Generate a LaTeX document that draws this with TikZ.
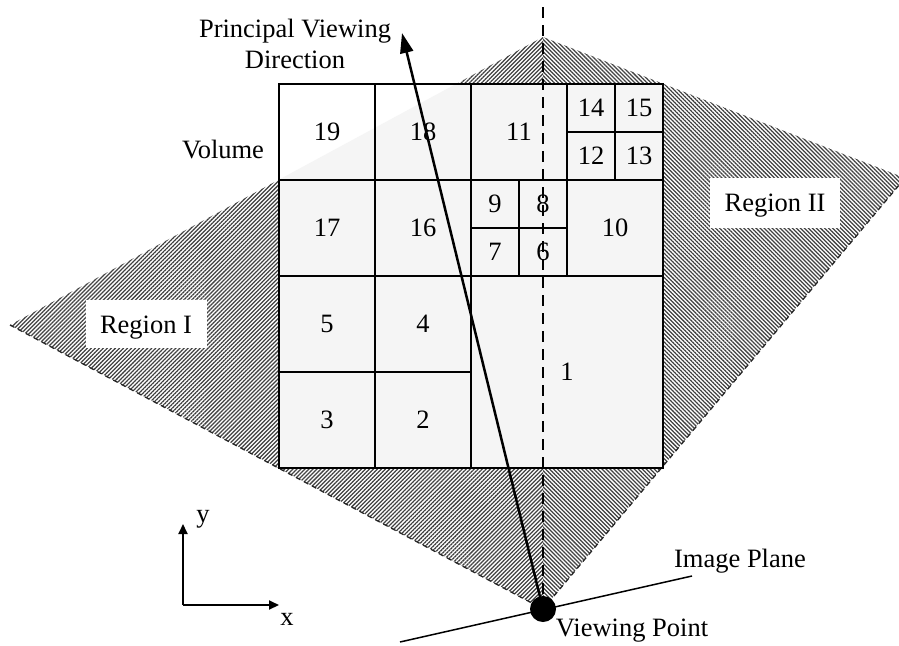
\documentclass[tikz,border=0pt]{standalone}
\usepackage{fontspec}
\setmainfont{Liberation Serif}
\usetikzlibrary{patterns,patterns.meta,arrows.meta}
\begin{document}
\begin{tikzpicture}[x=1pt,y=-1pt,
  lbl/.style={font=\fontsize{26.5}{30}\selectfont, inner sep=0pt},
  bigcell/.style={draw, line width=2pt, minimum width=96pt, minimum height=96pt, inner sep=0pt, font=\fontsize{26.5}{30}\selectfont},
  smallcell/.style={draw, line width=2pt, minimum width=48pt, minimum height=48pt, inner sep=0pt, font=\fontsize{26.5}{30}\selectfont},
  hatchL/.style={pattern={Lines[angle=45,distance=2.85pt,line width=1.25pt]}, pattern color=black!75},
  hatchR/.style={pattern={Lines[angle=-45,distance=2.85pt,line width=1.25pt]}, pattern color=black!75},
  edgedash/.style={line width=1.3pt, dash pattern=on 5pt off 4pt, black!85},
  viewline/.style={line width=2pt, dash pattern=on 11pt off 7pt},
  pvarrow/.style={line width=2.5pt, -{Triangle[length=20pt,width=13pt]}},
  axarrow/.style={line width=2pt, -{Triangle[length=10pt,width=9pt]}},
  thinline/.style={line width=1.5pt}
]
\useasboundingbox (0,0) rectangle (899,645);

% key points
\coordinate (kl) at (10,325);
\coordinate (kt) at (543,37);
\coordinate (kr) at (905,178);
\coordinate (kb) at (543,609);

% hatched regions
\fill[hatchL] (kl) -- (kt) -- (kb) -- cycle;
\fill[hatchR] (kt) -- (kr) -- (kb) -- cycle;
\draw[edgedash] (kl) -- (kb) -- (kr);

% volume background
\fill[white] (279,84) rectangle (663,468);
\begin{scope}
  \clip (279,84) rectangle (663,468);
  \fill[black!4] (kl) -- (kt) -- (kr) -- (kb) -- cycle;
\end{scope}

% cells
\node[bigcell] (c19) at (327,132) {19};
\node[bigcell] (c18) at (423,132) {18};
\node[bigcell] (c11) at (519,132) {11};
\node[smallcell] (c14) at (591,108) {14};
\node[smallcell] (c15) at (639,108) {15};
\node[smallcell] (c12) at (591,156) {12};
\node[smallcell] (c13) at (639,156) {13};
\node[bigcell] (c17) at (327,228) {17};
\node[bigcell] (c16) at (423,228) {16};
\node[smallcell] (c9) at (495,204) {9};
\node[smallcell] (c8) at (543,204) {8};
\node[smallcell] (c7) at (495,252) {7};
\node[smallcell] (c6) at (543,252) {6};
\node[bigcell] (c10) at (615,228) {10};
\node[bigcell] (c5) at (327,324) {5};
\node[bigcell] (c4) at (423,324) {4};
\node[bigcell] (c3) at (327,420) {3};
\node[bigcell] (c2) at (423,420) {2};
\node[draw, line width=2pt, minimum width=192pt, minimum height=192pt, inner sep=0pt, font=\fontsize{26.5}{30}\selectfont] (c1) at (567,372) {1};

% viewing point and lines
\node[circle, fill=black, inner sep=0pt, minimum size=26pt] (vp) at (kb) {};
\coordinate (dtop) at (543,7);
\draw[viewline] (dtop) -- (vp.center);
\coordinate (pvtip) at (402,33);
\draw[pvarrow] (vp.center) -- (pvtip);
\coordinate (ip1) at (400,642);
\coordinate (ip2) at (692,576);
\draw[thinline] (ip1) -- (ip2);

% axes
\coordinate (ao) at (183,605);
\coordinate (ax) at (279,605);
\coordinate (ay) at (183,524);
\draw[axarrow] (ao) -- (ax);
\draw[axarrow] (ao) -- (ay);
\node[lbl, anchor=base] (lx) at (287,625) {x};
\node[lbl, anchor=base] (ly) at (203,522) {y};

% labels
\node[lbl, anchor=base] (pv1) at (295,37) {Principal Viewing};
\node[lbl, anchor=base] (pv2) at (295,68) {Direction};
\node[lbl, anchor=base] (vol) at (223,158) {Volume};
\node[lbl, anchor=base] (ipl) at (740,567) {Image Plane};
\node[lbl, anchor=base] (vpl) at (632,636) {Viewing Point};
\fill[white] (86,300) rectangle (207,348);
\node[lbl, anchor=base] (r1) at (146,333) {Region I};
\fill[white] (710,178) rectangle (840,228);
\node[lbl, anchor=base] (r2) at (775,211) {Region II};
\end{tikzpicture}
\end{document}
